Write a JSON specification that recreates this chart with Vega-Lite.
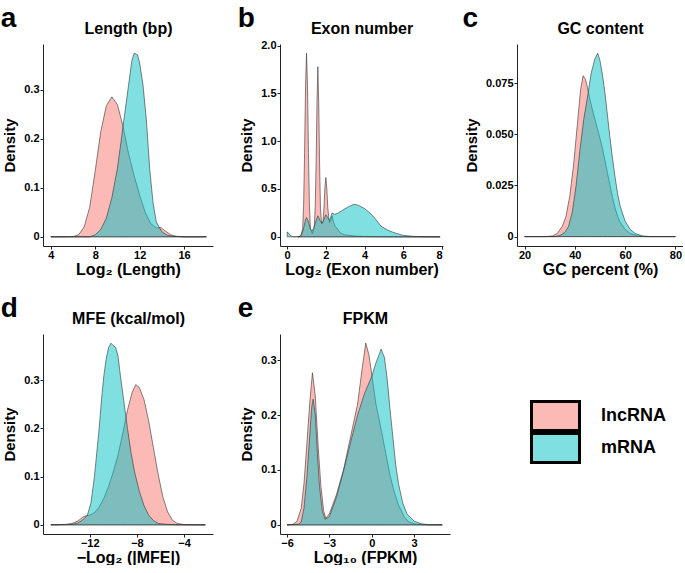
{
  "$schema": "https://vega.github.io/schema/vega-lite/v6.json",
  "padding": {"left": 0, "top": 5, "right": 0, "bottom": 0},
  "background": "white",
  "config": {
    "view": {"stroke": null},
    "font": "Liberation Sans",
    "axis": {"grid": false, "domainColor": "#222", "tickColor": "#222", "labelColor": "#000", "labelFontWeight": "bold", "labelFontSize": 11, "labelFont": "Liberation Sans", "titleFont": "Liberation Sans", "titleFontWeight": "bold", "titleColor": "#000", "titleFontSize": 16, "tickSize": 3, "labelPadding": 0, "titlePadding": 1},
    "axisY": {"titleFontSize": 15, "titlePadding": 6, "labelPadding": 1},
    "legend": {"padding": 0, "offset": 0},
    "title": {"anchor": "start", "frame": "bounds", "fontSize": 28, "fontWeight": "bold", "font": "Liberation Sans", "color": "#000", "offset": -13, "baseline": "alphabetic", "dx": -2}
  },
  "datasets": {
    "a": [
      {"type": "lncRNA", "x": 4, "d": 0}, {"type": "lncRNA", "x": 5, "d": 0}, {"type": "lncRNA", "x": 6, "d": 0.0005}, {"type": "lncRNA", "x": 6.5, "d": 0.004},
      {"type": "lncRNA", "x": 7, "d": 0.02}, {"type": "lncRNA", "x": 7.5, "d": 0.06}, {"type": "lncRNA", "x": 8, "d": 0.135}, {"type": "lncRNA", "x": 8.5, "d": 0.215},
      {"type": "lncRNA", "x": 9, "d": 0.268}, {"type": "lncRNA", "x": 9.5, "d": 0.286}, {"type": "lncRNA", "x": 10, "d": 0.27}, {"type": "lncRNA", "x": 10.5, "d": 0.226},
      {"type": "lncRNA", "x": 11, "d": 0.17}, {"type": "lncRNA", "x": 11.5, "d": 0.125}, {"type": "lncRNA", "x": 12, "d": 0.085}, {"type": "lncRNA", "x": 12.5, "d": 0.05},
      {"type": "lncRNA", "x": 13, "d": 0.027}, {"type": "lncRNA", "x": 13.5, "d": 0.018}, {"type": "lncRNA", "x": 13.9, "d": 0.019}, {"type": "lncRNA", "x": 14.3, "d": 0.012},
      {"type": "lncRNA", "x": 14.8, "d": 0.004}, {"type": "lncRNA", "x": 15.3, "d": 0.001}, {"type": "lncRNA", "x": 16, "d": 0}, {"type": "lncRNA", "x": 18, "d": 0},
      {"type": "mRNA", "x": 4, "d": 0}, {"type": "mRNA", "x": 7.5, "d": 0}, {"type": "mRNA", "x": 8, "d": 0.004}, {"type": "mRNA", "x": 8.5, "d": 0.015},
      {"type": "mRNA", "x": 9, "d": 0.038}, {"type": "mRNA", "x": 9.5, "d": 0.08}, {"type": "mRNA", "x": 10, "d": 0.14}, {"type": "mRNA", "x": 10.5, "d": 0.225},
      {"type": "mRNA", "x": 11, "d": 0.31}, {"type": "mRNA", "x": 11.3, "d": 0.36}, {"type": "mRNA", "x": 11.5, "d": 0.375}, {"type": "mRNA", "x": 11.8, "d": 0.372},
      {"type": "mRNA", "x": 12, "d": 0.355}, {"type": "mRNA", "x": 12.3, "d": 0.31}, {"type": "mRNA", "x": 12.6, "d": 0.24}, {"type": "mRNA", "x": 12.9, "d": 0.14},
      {"type": "mRNA", "x": 13.2, "d": 0.07}, {"type": "mRNA", "x": 13.5, "d": 0.03}, {"type": "mRNA", "x": 14, "d": 0.01}, {"type": "mRNA", "x": 14.5, "d": 0.003},
      {"type": "mRNA", "x": 15, "d": 0.001}, {"type": "mRNA", "x": 16, "d": 0}, {"type": "mRNA", "x": 18, "d": 0}
    ],
    "b": [
      {"type": "lncRNA", "x": 0.55, "d": 0}, {"type": "lncRNA", "x": 0.7, "d": 0.005}, {"type": "lncRNA", "x": 0.8, "d": 0.085}, {"type": "lncRNA", "x": 0.85, "d": 0.33},
      {"type": "lncRNA", "x": 0.9, "d": 0.88}, {"type": "lncRNA", "x": 0.95, "d": 1.58}, {"type": "lncRNA", "x": 1.0, "d": 1.92}, {"type": "lncRNA", "x": 1.05, "d": 1.58},
      {"type": "lncRNA", "x": 1.1, "d": 0.88}, {"type": "lncRNA", "x": 1.15, "d": 0.33}, {"type": "lncRNA", "x": 1.2, "d": 0.09}, {"type": "lncRNA", "x": 1.3, "d": 0.03},
      {"type": "lncRNA", "x": 1.4, "d": 0.09}, {"type": "lncRNA", "x": 1.45, "d": 0.32}, {"type": "lncRNA", "x": 1.5, "d": 0.82}, {"type": "lncRNA", "x": 1.54, "d": 1.4},
      {"type": "lncRNA", "x": 1.585, "d": 1.78}, {"type": "lncRNA", "x": 1.63, "d": 1.4}, {"type": "lncRNA", "x": 1.67, "d": 0.82}, {"type": "lncRNA", "x": 1.72, "d": 0.3},
      {"type": "lncRNA", "x": 1.78, "d": 0.14}, {"type": "lncRNA", "x": 1.85, "d": 0.15}, {"type": "lncRNA", "x": 1.9, "d": 0.3}, {"type": "lncRNA", "x": 1.95, "d": 0.52},
      {"type": "lncRNA", "x": 2.0, "d": 0.62}, {"type": "lncRNA", "x": 2.05, "d": 0.5}, {"type": "lncRNA", "x": 2.1, "d": 0.3}, {"type": "lncRNA", "x": 2.18, "d": 0.15},
      {"type": "lncRNA", "x": 2.25, "d": 0.17}, {"type": "lncRNA", "x": 2.32, "d": 0.22}, {"type": "lncRNA", "x": 2.4, "d": 0.15}, {"type": "lncRNA", "x": 2.5, "d": 0.1},
      {"type": "lncRNA", "x": 2.58, "d": 0.09}, {"type": "lncRNA", "x": 2.7, "d": 0.05}, {"type": "lncRNA", "x": 2.85, "d": 0.03}, {"type": "lncRNA", "x": 3.0, "d": 0.02},
      {"type": "lncRNA", "x": 3.5, "d": 0.008}, {"type": "lncRNA", "x": 4.0, "d": 0.003}, {"type": "lncRNA", "x": 5, "d": 0.001}, {"type": "lncRNA", "x": 6, "d": 0},
      {"type": "lncRNA", "x": 7.9, "d": 0},
      {"type": "mRNA", "x": 0, "d": 0.05}, {"type": "mRNA", "x": 0.05, "d": 0.045}, {"type": "mRNA", "x": 0.1, "d": 0.03}, {"type": "mRNA", "x": 0.2, "d": 0.008},
      {"type": "mRNA", "x": 0.3, "d": 0.001}, {"type": "mRNA", "x": 0.6, "d": 0.001}, {"type": "mRNA", "x": 0.75, "d": 0.02}, {"type": "mRNA", "x": 0.85, "d": 0.09},
      {"type": "mRNA", "x": 0.95, "d": 0.18}, {"type": "mRNA", "x": 1.0, "d": 0.2}, {"type": "mRNA", "x": 1.08, "d": 0.17}, {"type": "mRNA", "x": 1.2, "d": 0.08},
      {"type": "mRNA", "x": 1.3, "d": 0.06}, {"type": "mRNA", "x": 1.45, "d": 0.14}, {"type": "mRNA", "x": 1.585, "d": 0.22}, {"type": "mRNA", "x": 1.7, "d": 0.17},
      {"type": "mRNA", "x": 1.8, "d": 0.14}, {"type": "mRNA", "x": 1.9, "d": 0.18}, {"type": "mRNA", "x": 2.0, "d": 0.23}, {"type": "mRNA", "x": 2.1, "d": 0.2},
      {"type": "mRNA", "x": 2.2, "d": 0.17}, {"type": "mRNA", "x": 2.32, "d": 0.25}, {"type": "mRNA", "x": 2.45, "d": 0.235}, {"type": "mRNA", "x": 2.6, "d": 0.245},
      {"type": "mRNA", "x": 2.8, "d": 0.27}, {"type": "mRNA", "x": 3.0, "d": 0.295}, {"type": "mRNA", "x": 3.2, "d": 0.318}, {"type": "mRNA", "x": 3.45, "d": 0.34},
      {"type": "mRNA", "x": 3.7, "d": 0.328}, {"type": "mRNA", "x": 4.0, "d": 0.295}, {"type": "mRNA", "x": 4.3, "d": 0.245}, {"type": "mRNA", "x": 4.55, "d": 0.19},
      {"type": "mRNA", "x": 4.85, "d": 0.11}, {"type": "mRNA", "x": 5.2, "d": 0.07}, {"type": "mRNA", "x": 5.5, "d": 0.045}, {"type": "mRNA", "x": 6.0, "d": 0.015},
      {"type": "mRNA", "x": 6.5, "d": 0.005}, {"type": "mRNA", "x": 7, "d": 0.001}, {"type": "mRNA", "x": 7.9, "d": 0}
    ],
    "c": [
      {"type": "lncRNA", "x": 20, "d": 0}, {"type": "lncRNA", "x": 28, "d": 0}, {"type": "lncRNA", "x": 31, "d": 0.0003}, {"type": "lncRNA", "x": 33, "d": 0.0015},
      {"type": "lncRNA", "x": 35, "d": 0.005}, {"type": "lncRNA", "x": 36.5, "d": 0.01}, {"type": "lncRNA", "x": 38, "d": 0.02}, {"type": "lncRNA", "x": 39.5, "d": 0.035},
      {"type": "lncRNA", "x": 41, "d": 0.055}, {"type": "lncRNA", "x": 42.3, "d": 0.072}, {"type": "lncRNA", "x": 43.3, "d": 0.0787}, {"type": "lncRNA", "x": 44.2, "d": 0.077},
      {"type": "lncRNA", "x": 45, "d": 0.073}, {"type": "lncRNA", "x": 46, "d": 0.067}, {"type": "lncRNA", "x": 47, "d": 0.062}, {"type": "lncRNA", "x": 48.5, "d": 0.055},
      {"type": "lncRNA", "x": 50, "d": 0.048}, {"type": "lncRNA", "x": 51, "d": 0.043}, {"type": "lncRNA", "x": 52, "d": 0.037}, {"type": "lncRNA", "x": 53, "d": 0.031},
      {"type": "lncRNA", "x": 54, "d": 0.025}, {"type": "lncRNA", "x": 55, "d": 0.019}, {"type": "lncRNA", "x": 56, "d": 0.014}, {"type": "lncRNA", "x": 57, "d": 0.01},
      {"type": "lncRNA", "x": 58, "d": 0.007}, {"type": "lncRNA", "x": 60, "d": 0.0035}, {"type": "lncRNA", "x": 62, "d": 0.0015}, {"type": "lncRNA", "x": 65, "d": 0.0004},
      {"type": "lncRNA", "x": 68, "d": 0}, {"type": "lncRNA", "x": 80, "d": 0},
      {"type": "mRNA", "x": 20, "d": 0}, {"type": "mRNA", "x": 32, "d": 0}, {"type": "mRNA", "x": 34, "d": 0.0005}, {"type": "mRNA", "x": 36, "d": 0.002},
      {"type": "mRNA", "x": 37.5, "d": 0.005}, {"type": "mRNA", "x": 39, "d": 0.012}, {"type": "mRNA", "x": 40.5, "d": 0.025}, {"type": "mRNA", "x": 42, "d": 0.042},
      {"type": "mRNA", "x": 43.5, "d": 0.057}, {"type": "mRNA", "x": 45, "d": 0.068}, {"type": "mRNA", "x": 46.5, "d": 0.08}, {"type": "mRNA", "x": 48, "d": 0.087},
      {"type": "mRNA", "x": 49.1, "d": 0.0897}, {"type": "mRNA", "x": 50, "d": 0.086}, {"type": "mRNA", "x": 51, "d": 0.079}, {"type": "mRNA", "x": 52, "d": 0.07},
      {"type": "mRNA", "x": 53, "d": 0.059}, {"type": "mRNA", "x": 54, "d": 0.048}, {"type": "mRNA", "x": 55, "d": 0.038}, {"type": "mRNA", "x": 56, "d": 0.029},
      {"type": "mRNA", "x": 57, "d": 0.021}, {"type": "mRNA", "x": 58, "d": 0.015}, {"type": "mRNA", "x": 60, "d": 0.0075}, {"type": "mRNA", "x": 62, "d": 0.0035},
      {"type": "mRNA", "x": 64, "d": 0.0015}, {"type": "mRNA", "x": 67, "d": 0.0003}, {"type": "mRNA", "x": 70, "d": 0}, {"type": "mRNA", "x": 80, "d": 0}
    ],
    "d": [
      {"type": "lncRNA", "x": -15.3, "d": 0}, {"type": "lncRNA", "x": -14, "d": 0.001}, {"type": "lncRNA", "x": -13.5, "d": 0.003}, {"type": "lncRNA", "x": -13, "d": 0.008},
      {"type": "lncRNA", "x": -12.6, "d": 0.016}, {"type": "lncRNA", "x": -12.3, "d": 0.019}, {"type": "lncRNA", "x": -12, "d": 0.02}, {"type": "lncRNA", "x": -11.6, "d": 0.025},
      {"type": "lncRNA", "x": -11.2, "d": 0.037}, {"type": "lncRNA", "x": -10.8, "d": 0.055}, {"type": "lncRNA", "x": -10.4, "d": 0.08}, {"type": "lncRNA", "x": -10, "d": 0.11},
      {"type": "lncRNA", "x": -9.6, "d": 0.145}, {"type": "lncRNA", "x": -9.2, "d": 0.19}, {"type": "lncRNA", "x": -8.8, "d": 0.238}, {"type": "lncRNA", "x": -8.4, "d": 0.275},
      {"type": "lncRNA", "x": -8.1, "d": 0.291}, {"type": "lncRNA", "x": -7.8, "d": 0.285}, {"type": "lncRNA", "x": -7.4, "d": 0.26}, {"type": "lncRNA", "x": -7, "d": 0.215},
      {"type": "lncRNA", "x": -6.6, "d": 0.16}, {"type": "lncRNA", "x": -6.2, "d": 0.105}, {"type": "lncRNA", "x": -5.8, "d": 0.058}, {"type": "lncRNA", "x": -5.4, "d": 0.027},
      {"type": "lncRNA", "x": -5, "d": 0.01}, {"type": "lncRNA", "x": -4.6, "d": 0.003}, {"type": "lncRNA", "x": -4, "d": 0.0005}, {"type": "lncRNA", "x": -3, "d": 0},
      {"type": "lncRNA", "x": -2.2, "d": 0},
      {"type": "mRNA", "x": -15.3, "d": 0}, {"type": "mRNA", "x": -13.5, "d": 0.001}, {"type": "mRNA", "x": -13, "d": 0.004}, {"type": "mRNA", "x": -12.6, "d": 0.01},
      {"type": "mRNA", "x": -12.2, "d": 0.02}, {"type": "mRNA", "x": -11.9, "d": 0.045}, {"type": "mRNA", "x": -11.6, "d": 0.1}, {"type": "mRNA", "x": -11.4, "d": 0.15},
      {"type": "mRNA", "x": -11.2, "d": 0.2}, {"type": "mRNA", "x": -11, "d": 0.26}, {"type": "mRNA", "x": -10.8, "d": 0.31}, {"type": "mRNA", "x": -10.6, "d": 0.345},
      {"type": "mRNA", "x": -10.4, "d": 0.368}, {"type": "mRNA", "x": -10.2, "d": 0.377}, {"type": "mRNA", "x": -10.0, "d": 0.372}, {"type": "mRNA", "x": -9.8, "d": 0.368},
      {"type": "mRNA", "x": -9.6, "d": 0.35}, {"type": "mRNA", "x": -9.4, "d": 0.31}, {"type": "mRNA", "x": -9.1, "d": 0.255}, {"type": "mRNA", "x": -8.8, "d": 0.2},
      {"type": "mRNA", "x": -8.5, "d": 0.15}, {"type": "mRNA", "x": -8.2, "d": 0.11}, {"type": "mRNA", "x": -7.8, "d": 0.07}, {"type": "mRNA", "x": -7.4, "d": 0.04},
      {"type": "mRNA", "x": -7, "d": 0.02}, {"type": "mRNA", "x": -6.6, "d": 0.009}, {"type": "mRNA", "x": -6.2, "d": 0.003}, {"type": "mRNA", "x": -5.5, "d": 0.001},
      {"type": "mRNA", "x": -4.5, "d": 0}, {"type": "mRNA", "x": -2.2, "d": 0}
    ],
    "e": [
      {"type": "lncRNA", "x": -6, "d": 0}, {"type": "lncRNA", "x": -5.6, "d": 0.001}, {"type": "lncRNA", "x": -5.3, "d": 0.006}, {"type": "lncRNA", "x": -5.0, "d": 0.03},
      {"type": "lncRNA", "x": -4.8, "d": 0.075}, {"type": "lncRNA", "x": -4.6, "d": 0.145}, {"type": "lncRNA", "x": -4.4, "d": 0.22}, {"type": "lncRNA", "x": -4.2, "d": 0.277},
      {"type": "lncRNA", "x": -4.0, "d": 0.235}, {"type": "lncRNA", "x": -3.8, "d": 0.145}, {"type": "lncRNA", "x": -3.6, "d": 0.07}, {"type": "lncRNA", "x": -3.4, "d": 0.025},
      {"type": "lncRNA", "x": -3.25, "d": 0.012}, {"type": "lncRNA", "x": -3.0, "d": 0.02}, {"type": "lncRNA", "x": -2.5, "d": 0.055}, {"type": "lncRNA", "x": -2.0, "d": 0.1},
      {"type": "lncRNA", "x": -1.5, "d": 0.16}, {"type": "lncRNA", "x": -1.0, "d": 0.22}, {"type": "lncRNA", "x": -0.7, "d": 0.28}, {"type": "lncRNA", "x": -0.42, "d": 0.331},
      {"type": "lncRNA", "x": -0.2, "d": 0.31}, {"type": "lncRNA", "x": 0, "d": 0.275}, {"type": "lncRNA", "x": 0.3, "d": 0.22}, {"type": "lncRNA", "x": 0.7, "d": 0.17},
      {"type": "lncRNA", "x": 1.0, "d": 0.13}, {"type": "lncRNA", "x": 1.3, "d": 0.09}, {"type": "lncRNA", "x": 1.6, "d": 0.06}, {"type": "lncRNA", "x": 1.9, "d": 0.036},
      {"type": "lncRNA", "x": 2.3, "d": 0.015}, {"type": "lncRNA", "x": 2.6, "d": 0.006}, {"type": "lncRNA", "x": 3.0, "d": 0.002}, {"type": "lncRNA", "x": 3.5, "d": 0.0005},
      {"type": "lncRNA", "x": 4, "d": 0}, {"type": "lncRNA", "x": 5, "d": 0},
      {"type": "mRNA", "x": -6, "d": 0}, {"type": "mRNA", "x": -5.2, "d": 0.001}, {"type": "mRNA", "x": -5.0, "d": 0.005}, {"type": "mRNA", "x": -4.8, "d": 0.03},
      {"type": "mRNA", "x": -4.6, "d": 0.085}, {"type": "mRNA", "x": -4.4, "d": 0.16}, {"type": "mRNA", "x": -4.25, "d": 0.215}, {"type": "mRNA", "x": -4.15, "d": 0.229},
      {"type": "mRNA", "x": -4.0, "d": 0.2}, {"type": "mRNA", "x": -3.85, "d": 0.13}, {"type": "mRNA", "x": -3.7, "d": 0.07}, {"type": "mRNA", "x": -3.5, "d": 0.025},
      {"type": "mRNA", "x": -3.3, "d": 0.01}, {"type": "mRNA", "x": -3.0, "d": 0.015}, {"type": "mRNA", "x": -2.5, "d": 0.05}, {"type": "mRNA", "x": -2.0, "d": 0.098},
      {"type": "mRNA", "x": -1.5, "d": 0.15}, {"type": "mRNA", "x": -1.0, "d": 0.2}, {"type": "mRNA", "x": -0.5, "d": 0.24}, {"type": "mRNA", "x": 0, "d": 0.27},
      {"type": "mRNA", "x": 0.3, "d": 0.295}, {"type": "mRNA", "x": 0.67, "d": 0.32}, {"type": "mRNA", "x": 0.9, "d": 0.305}, {"type": "mRNA", "x": 1.1, "d": 0.265},
      {"type": "mRNA", "x": 1.3, "d": 0.21}, {"type": "mRNA", "x": 1.5, "d": 0.16}, {"type": "mRNA", "x": 1.7, "d": 0.11}, {"type": "mRNA", "x": 1.9, "d": 0.075},
      {"type": "mRNA", "x": 2.2, "d": 0.04}, {"type": "mRNA", "x": 2.5, "d": 0.02}, {"type": "mRNA", "x": 3.0, "d": 0.007}, {"type": "mRNA", "x": 3.5, "d": 0.002},
      {"type": "mRNA", "x": 4, "d": 0.0005}, {"type": "mRNA", "x": 5, "d": 0}
    ]
  },
  "columns": 3,
  "spacing": {"row": 88, "column": 67},
  "bounds": "flush",
  "concat": [
    {
      "title": {"text": "a"},
      "width": 170, "height": 202,
      "data": {"name": "a"},
      "layer": [
        {"mark": {"type": "area", "fillOpacity": 0.5, "stroke": "#333", "strokeWidth": 0.6},
         "encoding": {
           "x": {"field": "x", "type": "quantitative", "scale": {"domain": [3.3, 18.6], "nice": false, "zero": false}, "axis": {"values": [4, 8, 12, 16], "title": "Log₂ (Length)"}},
           "y": {"field": "d", "type": "quantitative", "stack": null, "scale": {"domain": [-0.0188, 0.394], "nice": false, "zero": false}, "axis": {"values": [0, 0.1, 0.2, 0.3], "title": "Density", "labelExpr": "datum.value == 0 ? '0' : format(datum.value, '.1f')"}},
           "y2": {"datum": 0},
           "color": {"field": "type", "type": "nominal", "scale": {"domain": ["lncRNA", "mRNA"], "range": ["#F8766D", "#00BFC4"]},
             "legend": {"title": null, "orient": "none", "legendX": 487, "legendY": 356, "symbolType": "M-1.5,-0.91H1.5V0.91H-1.5Z", "symbolSize": 1024, "symbolOffset": 8, "symbolStrokeColor": "#000", "symbolStrokeWidth": 3, "labelFontSize": 18, "labelFontWeight": "bold", "labelFont": "Liberation Sans", "labelColor": "#000", "labelOffset": 28, "rowPadding": 0, "clipHeight": 32,
               "encode": {"symbols": {"update": {"fillOpacity": {"value": 0.5}, "strokeOpacity": {"value": 1}, "stroke": {"value": "#000"}, "strokeWidth": {"value": 3}, "opacity": {"value": 1}}}}}}
         }},
        {"mark": {"type": "point", "opacity": 0},
         "encoding": {
           "x": {"field": "x", "type": "quantitative", "axis": {"orient": "top", "title": "Length (bp)", "labels": false, "ticks": false, "domain": false, "titleFontSize": 16, "titlePadding": 8}}
         }}
      ],
      "resolve": {"axis": {"x": "independent"}}
    },
    {
      "title": {"text": "b"},
      "width": 163, "height": 202,
      "data": {"name": "b"},
      "layer": [
        {"mark": {"type": "area", "fillOpacity": 0.5, "stroke": "#333", "strokeWidth": 0.6},
         "encoding": {
           "x": {"field": "x", "type": "quantitative", "scale": {"domain": [-0.37, 8.05], "nice": false, "zero": false}, "axis": {"values": [0, 2, 4, 6, 8], "title": "Log₂ (Exon number)"}},
           "y": {"field": "d", "type": "quantitative", "stack": null, "scale": {"domain": [-0.096, 2.016], "nice": false, "zero": false}, "axis": {"values": [0, 0.5, 1, 1.5, 2], "title": "Density", "labelExpr": "datum.value == 0 ? '0' : format(datum.value, '.1f')"}},
           "y2": {"datum": 0},
           "color": {"field": "type", "type": "nominal", "scale": {"domain": ["lncRNA", "mRNA"], "range": ["#F8766D", "#00BFC4"]},
             "legend": {"title": null, "orient": "none", "legendX": 487, "legendY": 356, "symbolType": "M-1.5,-0.91H1.5V0.91H-1.5Z", "symbolSize": 1024, "symbolOffset": 8, "symbolStrokeColor": "#000", "symbolStrokeWidth": 3, "labelFontSize": 18, "labelFontWeight": "bold", "labelFont": "Liberation Sans", "labelColor": "#000", "labelOffset": 28, "rowPadding": 0, "clipHeight": 32,
               "encode": {"symbols": {"update": {"fillOpacity": {"value": 0.5}, "strokeOpacity": {"value": 1}, "stroke": {"value": "#000"}, "strokeWidth": {"value": 3}, "opacity": {"value": 1}}}}}}
         }},
        {"mark": {"type": "point", "opacity": 0},
         "encoding": {
           "x": {"field": "x", "type": "quantitative", "axis": {"orient": "top", "title": "Exon number", "labels": false, "ticks": false, "domain": false, "titleFontSize": 16, "titlePadding": 8}}
         }}
      ],
      "resolve": {"axis": {"x": "independent"}}
    },
    {
      "title": {"text": "c"},
      "width": 166, "height": 202,
      "data": {"name": "c"},
      "layer": [
        {"mark": {"type": "area", "fillOpacity": 0.5, "stroke": "#333", "strokeWidth": 0.6},
         "encoding": {
           "x": {"field": "x", "type": "quantitative", "scale": {"domain": [17, 83], "nice": false, "zero": false}, "axis": {"values": [20, 40, 60, 80], "title": "GC percent (%)"}},
           "y": {"field": "d", "type": "quantitative", "stack": null, "scale": {"domain": [-0.0046, 0.0942], "nice": false, "zero": false}, "axis": {"values": [0, 0.025, 0.05, 0.075], "title": "Density", "labelExpr": "datum.value == 0 ? '0' : format(datum.value, '.3f')"}},
           "y2": {"datum": 0},
           "color": {"field": "type", "type": "nominal", "scale": {"domain": ["lncRNA", "mRNA"], "range": ["#F8766D", "#00BFC4"]},
             "legend": {"title": null, "orient": "none", "legendX": 487, "legendY": 356, "symbolType": "M-1.5,-0.91H1.5V0.91H-1.5Z", "symbolSize": 1024, "symbolOffset": 8, "symbolStrokeColor": "#000", "symbolStrokeWidth": 3, "labelFontSize": 18, "labelFontWeight": "bold", "labelFont": "Liberation Sans", "labelColor": "#000", "labelOffset": 28, "rowPadding": 0, "clipHeight": 32,
               "encode": {"symbols": {"update": {"fillOpacity": {"value": 0.5}, "strokeOpacity": {"value": 1}, "stroke": {"value": "#000"}, "strokeWidth": {"value": 3}, "opacity": {"value": 1}}}}}}
         }},
        {"mark": {"type": "point", "opacity": 0},
         "encoding": {
           "x": {"field": "x", "type": "quantitative", "axis": {"orient": "top", "title": "GC content", "labels": false, "ticks": false, "domain": false, "titleFontSize": 16, "titlePadding": 8}}
         }}
      ],
      "resolve": {"axis": {"x": "independent"}}
    },
    {
      "title": {"text": "d"},
      "width": 170, "height": 200,
      "data": {"name": "d"},
      "layer": [
        {"mark": {"type": "area", "fillOpacity": 0.5, "stroke": "#333", "strokeWidth": 0.6},
         "encoding": {
           "x": {"field": "x", "type": "quantitative", "scale": {"domain": [-15.96, -1.55], "nice": false, "zero": false}, "axis": {"values": [-12, -8, -4], "title": "−Log₂ (|MFE|)"}},
           "y": {"field": "d", "type": "quantitative", "stack": null, "scale": {"domain": [-0.019, 0.396], "nice": false, "zero": false}, "axis": {"values": [0, 0.1, 0.2, 0.3], "title": "Density", "labelExpr": "datum.value == 0 ? '0' : format(datum.value, '.1f')"}},
           "y2": {"datum": 0},
           "color": {"field": "type", "type": "nominal", "scale": {"domain": ["lncRNA", "mRNA"], "range": ["#F8766D", "#00BFC4"]},
             "legend": {"title": null, "orient": "none", "legendX": 487, "legendY": 356, "symbolType": "M-1.5,-0.91H1.5V0.91H-1.5Z", "symbolSize": 1024, "symbolOffset": 8, "symbolStrokeColor": "#000", "symbolStrokeWidth": 3, "labelFontSize": 18, "labelFontWeight": "bold", "labelFont": "Liberation Sans", "labelColor": "#000", "labelOffset": 28, "rowPadding": 0, "clipHeight": 32,
               "encode": {"symbols": {"update": {"fillOpacity": {"value": 0.5}, "strokeOpacity": {"value": 1}, "stroke": {"value": "#000"}, "strokeWidth": {"value": 3}, "opacity": {"value": 1}}}}}}
         }},
        {"mark": {"type": "point", "opacity": 0},
         "encoding": {
           "x": {"field": "x", "type": "quantitative", "axis": {"orient": "top", "title": "MFE (kcal/mol)", "labels": false, "ticks": false, "domain": false, "titleFontSize": 16, "titlePadding": 8}}
         }}
      ],
      "resolve": {"axis": {"x": "independent"}}
    },
    {
      "title": {"text": "e"},
      "width": 170, "height": 200,
      "data": {"name": "e"},
      "layer": [
        {"mark": {"type": "area", "fillOpacity": 0.5, "stroke": "#333", "strokeWidth": 0.6},
         "encoding": {
           "x": {"field": "x", "type": "quantitative", "scale": {"domain": [-6.5, 5.55], "nice": false, "zero": false}, "axis": {"values": [-6, -3, 0, 3], "title": "Log₁₀ (FPKM)"}},
           "y": {"field": "d", "type": "quantitative", "stack": null, "scale": {"domain": [-0.0166, 0.3476], "nice": false, "zero": false}, "axis": {"values": [0, 0.1, 0.2, 0.3], "title": "Density", "labelExpr": "datum.value == 0 ? '0' : format(datum.value, '.1f')"}},
           "y2": {"datum": 0},
           "color": {"field": "type", "type": "nominal", "scale": {"domain": ["lncRNA", "mRNA"], "range": ["#F8766D", "#00BFC4"]},
             "legend": {"title": null, "orient": "none", "legendX": 487, "legendY": 356, "symbolType": "M-1.5,-0.91H1.5V0.91H-1.5Z", "symbolSize": 1024, "symbolOffset": 8, "symbolStrokeColor": "#000", "symbolStrokeWidth": 3, "labelFontSize": 18, "labelFontWeight": "bold", "labelFont": "Liberation Sans", "labelColor": "#000", "labelOffset": 28, "rowPadding": 0, "clipHeight": 32,
               "encode": {"symbols": {"update": {"fillOpacity": {"value": 0.5}, "strokeOpacity": {"value": 1}, "stroke": {"value": "#000"}, "strokeWidth": {"value": 3}, "opacity": {"value": 1}}}}}}
         }},
        {"mark": {"type": "point", "opacity": 0},
         "encoding": {
           "x": {"field": "x", "type": "quantitative", "axis": {"orient": "top", "title": "FPKM", "labels": false, "ticks": false, "domain": false, "titleFontSize": 16, "titlePadding": 8}}
         }}
      ],
      "resolve": {"axis": {"x": "independent"}}
    }
  ]
}
